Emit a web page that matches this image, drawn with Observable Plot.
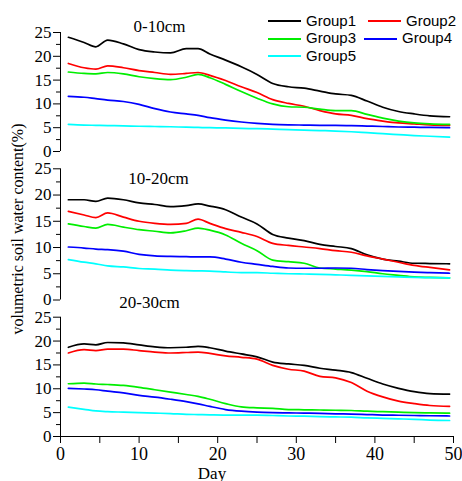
<!DOCTYPE html>
<html><head><meta charset="utf-8">
<script src="https://cdn.jsdelivr.net/npm/d3@7"></script>
<script src="https://cdn.jsdelivr.net/npm/@observablehq/plot@0.6"></script>
<style>
body{margin:0;background:#fff}
#chart{position:relative;width:462px;height:481px;overflow:hidden;background:#fff}
.panel{position:absolute;left:0}
.panel svg{overflow:visible;background:transparent}
.ylab{position:absolute;left:18px;top:229px;transform:translate(-50%,-50%) rotate(-90deg);font:16px "Liberation Serif",serif;white-space:nowrap;color:#000}
.leg-line{position:absolute;height:0;border-top:2px solid}
.leg-text{position:absolute;font:15px "Liberation Sans",Arial,sans-serif;line-height:18px;color:#000;white-space:nowrap}
</style>
</head><body>
<div id="chart"></div>
<script>
const days = [1,3,4.5,6,8,10,12,14,16,17.5,19,21,23,25,27,29,31,33,35,37,39,41,43,45,47,49.5];
const groups = ["Group1","Group2","Group3","Group4","Group5"];
const colors = ["#000000","#ff0000","#00ee00","#0000ff","#00ffff"];
const yMajor = [0,5,10,15,20,25];
const yMinor = [2.5,7.5,12.5,17.5,22.5];
const xMajor = [0,10,20,30,40,50];
const xMinor = [5,15,25,35,45];
const titles = ["0-10cm","10-20cm","20-30cm"];

// 0-10cm
const p1_g1 = [24.0,22.9,22.0,23.4,22.6,21.4,20.9,20.7,21.6,21.6,20.5,19.2,17.8,16.2,14.3,13.6,13.3,12.7,12.1,11.8,10.6,9.3,8.4,7.9,7.5,7.3];
const p1_g2 = [18.5,17.6,17.3,18.0,17.6,17.0,16.6,16.2,16.4,16.6,16.0,14.9,13.6,12.4,10.9,10.1,9.5,8.6,7.9,7.6,6.9,6.4,6.0,5.8,5.6,5.5];
const p1_g3 = [16.7,16.4,16.3,16.6,16.3,15.7,15.3,15.1,15.6,16.2,15.5,14.1,12.6,11.2,10.0,9.4,9.3,8.9,8.6,8.6,7.8,7.0,6.4,6.0,5.8,5.7];
const p1_g4 = [11.6,11.4,11.1,10.8,10.5,9.9,9.0,8.3,7.9,7.6,7.1,6.6,6.2,5.9,5.7,5.6,5.55,5.5,5.5,5.45,5.35,5.25,5.15,5.1,5.05,5.0];
const p1_g5 = [5.7,5.55,5.5,5.45,5.4,5.3,5.25,5.2,5.1,5.05,5.0,4.95,4.85,4.8,4.7,4.6,4.5,4.4,4.3,4.15,3.95,3.75,3.55,3.35,3.2,3.0];
// 10-20cm
const p2_g1 = [19.1,19.1,18.8,19.4,19.1,18.5,18.2,17.8,18.0,18.3,17.9,17.2,15.8,14.5,12.5,11.8,11.3,10.6,10.2,9.8,8.6,7.8,7.4,7.0,6.95,6.9];
const p2_g2 = [16.9,16.2,15.7,16.6,15.8,15.0,14.6,14.4,14.6,15.4,14.6,13.6,12.9,12.1,10.8,10.4,10.1,9.8,9.4,9.1,8.4,7.8,7.2,6.6,6.2,5.75];
const p2_g3 = [14.5,14.0,13.7,14.4,13.9,13.4,13.1,12.8,13.2,13.7,13.3,12.4,10.8,9.4,7.6,7.3,7.0,6.1,5.9,5.7,5.4,5.0,4.7,4.4,4.3,4.2];
const p2_g4 = [10.1,9.9,9.7,9.6,9.3,8.7,8.4,8.3,8.25,8.2,8.2,7.8,7.2,6.8,6.4,6.1,6.05,6.05,6.1,6.05,5.8,5.6,5.45,5.3,5.2,5.1];
const p2_g5 = [7.7,7.2,6.9,6.5,6.3,6.0,5.9,5.7,5.6,5.55,5.5,5.35,5.2,5.2,5.1,5.0,4.95,4.9,4.8,4.7,4.6,4.5,4.4,4.3,4.25,4.2];
// 20-30cm
const p3_g1 = [18.7,19.4,19.2,19.7,19.6,19.2,18.8,18.6,18.7,18.9,18.6,17.9,17.3,16.7,15.6,15.2,14.9,14.3,13.9,13.4,12.2,11.0,10.1,9.4,9.0,8.9];
const p3_g2 = [17.5,18.2,18.0,18.3,18.3,18.0,17.7,17.5,17.6,17.7,17.4,16.9,16.6,16.2,14.9,14.1,13.7,12.6,12.3,11.3,9.5,8.3,7.4,6.9,6.5,6.3];
const p3_g3 = [11.05,11.2,11.0,10.9,10.7,10.3,9.8,9.3,8.8,8.4,7.8,6.9,6.2,6.0,5.9,5.65,5.6,5.55,5.5,5.45,5.3,5.2,5.1,5.0,4.95,4.9];
const p3_g4 = [10.1,9.95,9.8,9.5,9.15,8.6,8.25,7.8,7.3,6.85,6.3,5.65,5.3,5.1,5.0,4.95,4.9,4.85,4.75,4.7,4.6,4.5,4.45,4.4,4.35,4.3];
const p3_g5 = [6.15,5.7,5.35,5.2,5.1,5.0,4.9,4.8,4.65,4.6,4.55,4.5,4.5,4.5,4.4,4.3,4.25,4.15,4.1,4.05,3.9,3.8,3.7,3.6,3.45,3.35];

const panels = [
  [p1_g1,p1_g2,p1_g3,p1_g4,p1_g5],
  [p2_g1,p2_g2,p2_g3,p2_g4,p2_g5],
  [p3_g1,p3_g2,p3_g3,p3_g4,p3_g5]
];

function tidy(series) {
  return groups.flatMap((g, i) => days.map((d, j) => ({day: d, value: series[i][j], group: g})));
}

const layout = [
  {top: 0,   height: 160, mt: 32,   mb: 9,  tdx: 99, tdy: -5.5},
  {top: 160, height: 145, mt: 8.3,  mb: 5.5, tdx: 98, tdy: 10.2},
  {top: 290, height: 191, mt: 26.7, mb: 45, tdx: 89, tdy: -14.2}
];

const chart = document.getElementById("chart");

panels.forEach((series, k) => {
  const L = layout[k];
  const bottom = k === 2;
  const marks = [
    Plot.axisY({ticks: yMajor, tickSize: 7, tickPadding: 2, fontSize: 17, fontFamily: "Liberation Serif", tickFormat: d => String(d), label: null}),
    Plot.axisY({ticks: yMinor, tickSize: 4, text: null, label: null}),
    Plot.ruleX([0], {y1: 0, y2: 25, stroke: "#000"})
  ];
  if (bottom) {
    marks.push(
      Plot.axisX({ticks: xMajor, tickSize: 7, tickPadding: 3.5, fontSize: 18, fontFamily: "Liberation Serif", tickFormat: d => String(d), label: null}),
      Plot.axisX({ticks: xMinor, tickSize: 7, text: null, label: null}),
      Plot.ruleY([0], {x1: 0, x2: 50, stroke: "#000"}),
      Plot.text(["Day"], {frameAnchor: "bottom", dx: -45, dy: 42, lineAnchor: "bottom", fontSize: 17, fontFamily: "Liberation Serif", fill: "#000"})
    );
  }
  marks.push(
    Plot.line(tidy(series), {x: "day", y: "value", stroke: "group", strokeWidth: 1.7, curve: "monotone-x"}),
    Plot.text([titles[k]], {frameAnchor: "top-left", dx: L.tdx, dy: L.tdy, textAnchor: "middle", lineAnchor: "middle", fontSize: 17, fontFamily: "Liberation Serif", fill: "#000"})
  );
  const p = Plot.plot({
    width: 462, height: L.height,
    marginLeft: 60, marginRight: 9, marginTop: L.mt, marginBottom: L.mb,
    x: {domain: [0, 50], axis: bottom ? undefined : null, label: null},
    y: {domain: [0, 25], label: null},
    color: {domain: groups, range: colors},
    style: {background: "transparent", overflow: "visible", fontFamily: "Liberation Serif", color: "#000"},
    marks
  });
  const wrap = document.createElement("div");
  wrap.className = "panel";
  wrap.style.top = L.top + "px";
  wrap.appendChild(p);
  chart.appendChild(wrap);
});

const ylab = document.createElement("div");
ylab.className = "ylab";
ylab.textContent = "volumetric soil water content(%)";
chart.appendChild(ylab);

// legend
const legPos = [
  {lx: 268, tx: 306, y: 21},
  {lx: 368, tx: 406, y: 21},
  {lx: 268, tx: 306, y: 38.5},
  {lx: 364, tx: 402, y: 38.5},
  {lx: 268, tx: 306, y: 56}
];
groups.forEach((g, i) => {
  const P = legPos[i];
  const ln = document.createElement("div");
  ln.className = "leg-line";
  ln.style.left = P.lx + "px";
  ln.style.width = "33px";
  ln.style.top = (P.y - 1) + "px";
  ln.style.borderTopColor = colors[i];
  chart.appendChild(ln);
  const tx = document.createElement("div");
  tx.className = "leg-text";
  tx.style.left = P.tx + "px";
  tx.style.top = (P.y - 9.5) + "px";
  tx.textContent = g;
  chart.appendChild(tx);
});
</script>
</body></html>
